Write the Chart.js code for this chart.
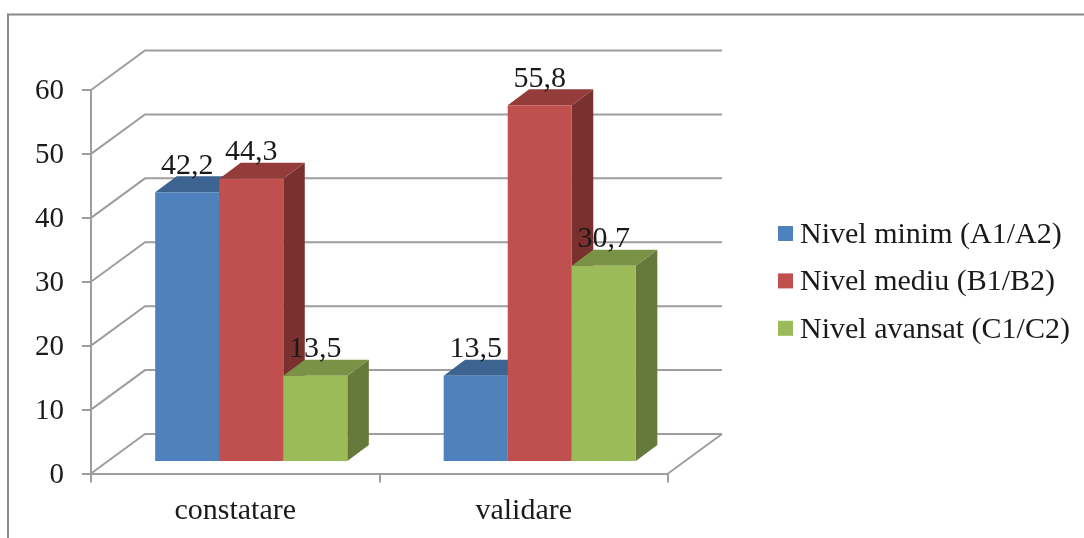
<!DOCTYPE html>
<html>
<head>
<meta charset="utf-8">
<style>html,body{margin:0;padding:0;background:#fff}canvas{display:block}</style>
<script src="https://cdn.jsdelivr.net/npm/chart.js@4/dist/chart.umd.min.js"></script>
</head>
<body>
<canvas id="c" width="1084" height="538"></canvas>
<script>
// Survey levels at the two experiment stages (percent)
const categories = ['constatare', 'validare'];
const seriesNames = ['Nivel minim (A1/A2)', 'Nivel mediu (B1/B2)', 'Nivel avansat (C1/C2)'];
const minim = [42.2, 13.5];
const mediu = [44.3, 55.8];
const avansat = [13.5, 30.7];

const frontColors = ['#4F81BD', '#C0504D', '#9BBB59'];
const topColors = ['#3D6491', '#943C39', '#7A9246'];
const sideColors = ['#345578', '#7A302E', '#65793A'];

const FONT = '"Liberation Serif"';
const FONT_SIZE = 30;
const AXIS_GREY = '#9E9E9E';
const TEXT = '#1a1a1a';

// Oblique projection: wall depth, bar depth and the bars' offset from the front plane
const WALL = {dx: 54, dy: -39.5};
const BAR = {dx: 21.5, dy: -16};
const SHIFT = {dx: 16, dy: -11.5};

const walls = {
  id: 'walls',
  beforeDraw(chart) {
    const {ctx} = chart;
    // outer chart frame: left and top edges
    ctx.save();
    ctx.strokeStyle = '#8A8A8A';
    ctx.lineWidth = 2;
    ctx.beginPath();
    ctx.moveTo(8, 538);
    ctx.lineTo(8, 14.5);
    ctx.lineTo(1084, 14.5);
    ctx.stroke();
    ctx.restore();
  },
  beforeDatasetsDraw(chart) {
    const {ctx, scales: {x, y}} = chart;
    ctx.save();
    ctx.strokeStyle = AXIS_GREY;
    ctx.lineWidth = 2;
    y.ticks.forEach(t => {
      const py = y.getPixelForValue(t.value);
      ctx.beginPath();
      ctx.moveTo(x.left, py);
      ctx.lineTo(x.left + WALL.dx, py + WALL.dy);
      ctx.lineTo(x.right + WALL.dx, py + WALL.dy);
      ctx.stroke();
    });
    const py0 = y.getPixelForValue(0);
    ctx.beginPath();
    ctx.moveTo(x.right, py0);
    ctx.lineTo(x.right + WALL.dx, py0 + WALL.dy);
    ctx.stroke();
    ctx.restore();
  }
};

// Draws the bars left to right as boxes: side and top faces, then the library's front face
const extrude = {
  id: 'extrude',
  beforeDatasetsDraw(chart) {
    const {ctx} = chart;
    ctx.save();
    ctx.translate(SHIFT.dx, SHIFT.dy);
    chart.data.datasets.forEach((ds, i) => {
      chart.getDatasetMeta(i).data.forEach(el => {
        const l = el.x - el.width / 2, r = el.x + el.width / 2;
        ctx.fillStyle = sideColors[i];
        ctx.beginPath();
        ctx.moveTo(r, el.y);
        ctx.lineTo(r + BAR.dx, el.y + BAR.dy);
        ctx.lineTo(r + BAR.dx, el.base + BAR.dy);
        ctx.lineTo(r, el.base);
        ctx.closePath();
        ctx.fill();
        ctx.fillStyle = topColors[i];
        ctx.beginPath();
        ctx.moveTo(l, el.y);
        ctx.lineTo(l + BAR.dx, el.y + BAR.dy);
        ctx.lineTo(r + BAR.dx, el.y + BAR.dy);
        ctx.lineTo(r, el.y);
        ctx.closePath();
        ctx.fill();
        el.draw(ctx);
      });
    });
    ctx.restore();
  },
  // the boxes above already include each front face
  beforeDatasetDraw() {
    return false;
  },
  afterDatasetsDraw(chart) {
    // value labels with a decimal comma, above each bar's back edge
    const {ctx} = chart;
    ctx.save();
    ctx.font = FONT_SIZE + 'px ' + FONT;
    ctx.fillStyle = TEXT;
    ctx.textAlign = 'center';
    ctx.textBaseline = 'alphabetic';
    chart.data.datasets.forEach((ds, i) => {
      chart.getDatasetMeta(i).data.forEach((el, j) => {
        ctx.fillText(String(ds.data[j]).replace('.', ','), el.x + SHIFT.dx, el.y + SHIFT.dy - 18.5);
      });
    });
    ctx.restore();
  }
};

// Legend column to the right of the plot
const sideLegend = {
  id: 'sideLegend',
  afterDraw(chart) {
    const {ctx} = chart;
    ctx.save();
    ctx.font = FONT_SIZE + 'px ' + FONT;
    ctx.textAlign = 'left';
    ctx.textBaseline = 'alphabetic';
    chart.data.datasets.forEach((ds, i) => {
      const top = 226 + i * 47.4;
      ctx.fillStyle = ds.backgroundColor;
      ctx.fillRect(778, top, 15, 15);
      ctx.fillStyle = TEXT;
      ctx.fillText(ds.label, 800, top + 17);
    });
    ctx.restore();
  }
};

new Chart(document.getElementById('c'), {
  type: 'bar',
  data: {
    labels: categories,
    datasets: [minim, mediu, avansat].map((values, i) => ({
      label: seriesNames[i],
      data: values,
      backgroundColor: frontColors[i],
      barPercentage: 1,
      categoryPercentage: 0.666
    }))
  },
  plugins: [walls, extrude, sideLegend],
  options: {
    responsive: false,
    animation: false,
    layout: {padding: {left: 0, top: 90, right: 416, bottom: 0}},
    plugins: {legend: {display: false}, tooltip: {enabled: false}},
    scales: {
      x: {
        afterFit(s) { s.height = 64.5; },
        grid: {drawOnChartArea: false, color: AXIS_GREY, lineWidth: 2, tickLength: 9},
        border: {color: AXIS_GREY, width: 2},
        ticks: {color: TEXT, font: {family: FONT, size: FONT_SIZE}, padding: 11, maxRotation: 0}
      },
      y: {
        min: 0,
        max: 60,
        afterFit(s) { s.width = 91; },
        grid: {drawOnChartArea: false, color: AXIS_GREY, lineWidth: 2, tickLength: 9},
        border: {color: AXIS_GREY, width: 2},
        ticks: {stepSize: 10, color: TEXT, font: {family: FONT, size: 29}, padding: 18, labelOffset: 1.5}
      }
    }
  }
});
</script>
</body>
</html>
